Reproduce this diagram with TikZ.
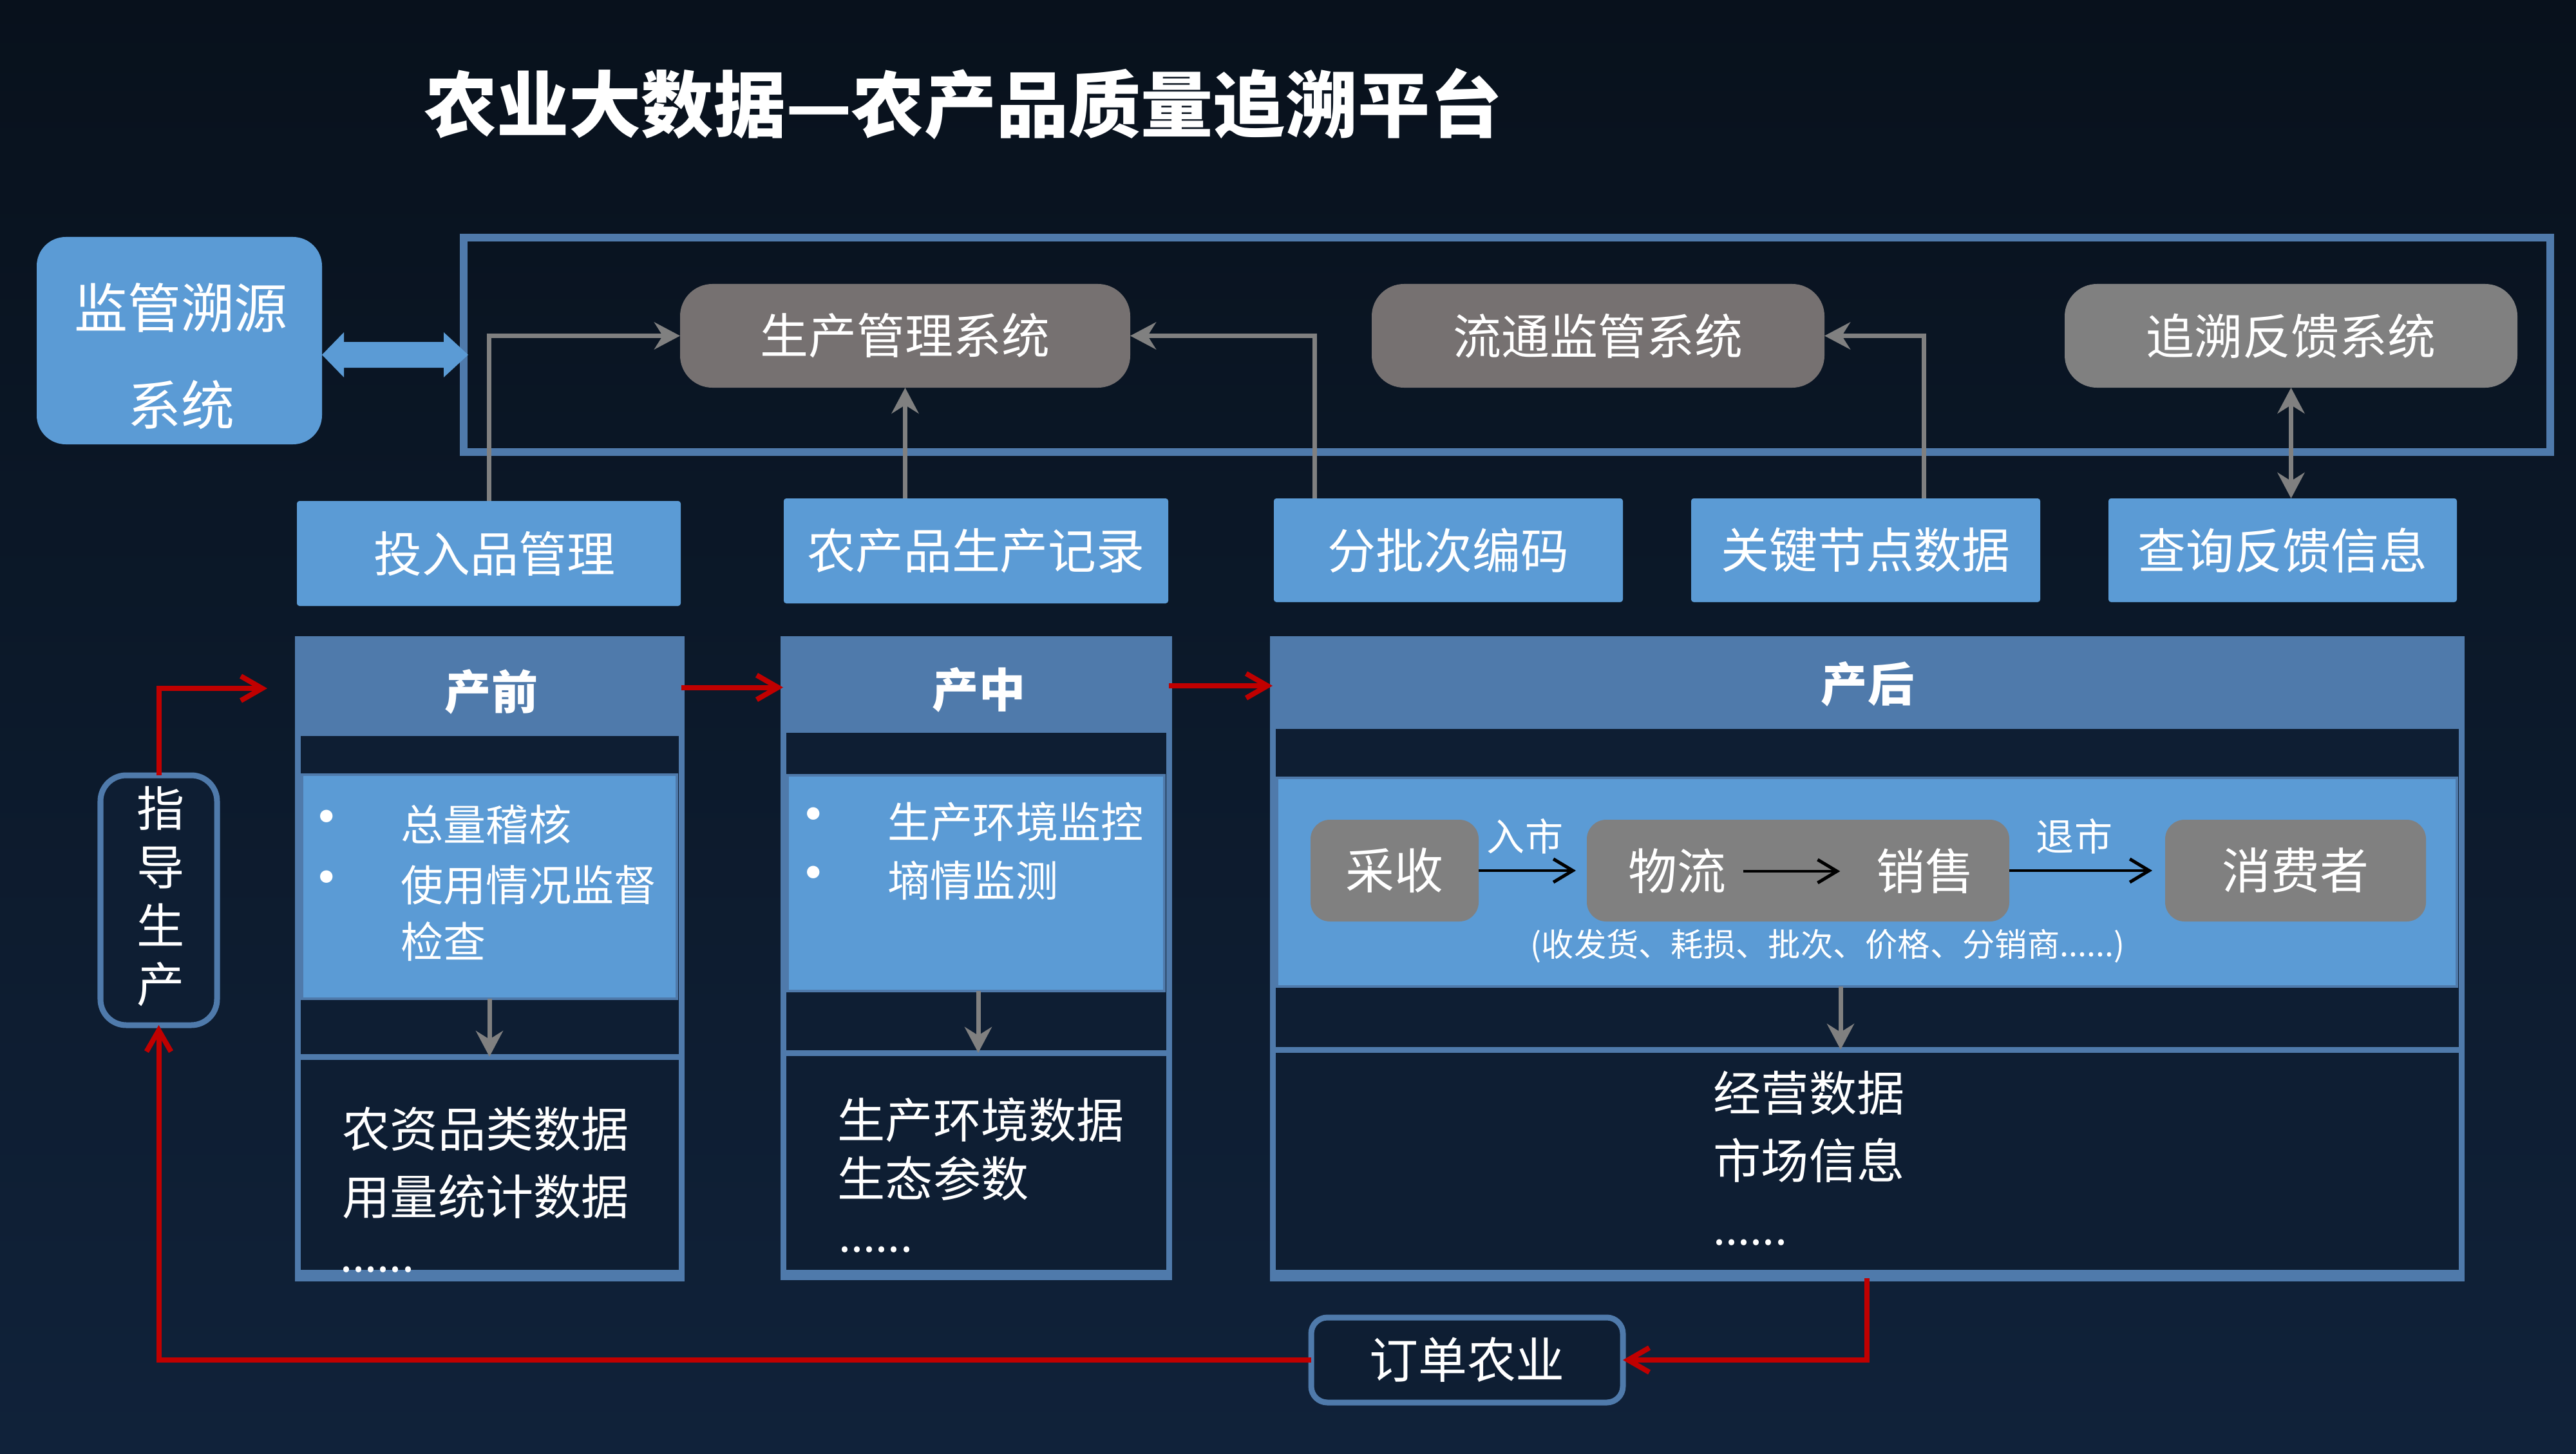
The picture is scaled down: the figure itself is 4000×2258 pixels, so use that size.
\documentclass[tikz,border=0pt]{standalone}
\usepackage{fontspec}
\setmainfont{Noto Sans CJK SC}
\usetikzlibrary{fit,arrows.meta,calc}
\definecolor{bgtop}{HTML}{08111C}
\definecolor{bgbot}{HTML}{10223A}
\definecolor{panel}{HTML}{0E1E33}
\definecolor{steel}{HTML}{4F7AAB}
\definecolor{lblue}{HTML}{5B9BD5}
\definecolor{gdark}{HTML}{767171}
\definecolor{gmid}{HTML}{808080}
\definecolor{ared}{HTML}{C00000}
\begin{document}
\begin{tikzpicture}[x=0.01cm,y=-0.01cm,
  box/.style={inner sep=0pt, outer sep=0pt},
  sysbox/.style={box, fill=gdark, rounded corners=0.5cm},
  inbox/.style={box, fill=lblue, rounded corners=0.04cm},
  colbox/.style={box, fill=panel, draw=steel, line width=0.09cm},
  hdr/.style={box, fill=steel},
  lbox/.style={box, fill=lblue, draw=steel, line width=0.04cm},
  procbox/.style={box, fill=gmid, rounded corners=0.3cm},
  lab/.style={inner sep=0pt, text=white, font=\fontsize{21.3pt}{25pt}\selectfont},
  hdrtxt/.style={inner sep=0pt, text=white, font=\bfseries\fontsize{20.5pt}{24pt}\selectfont},
  txt/.style={inner sep=0pt, text=white, anchor=west},
  bultxt/.style={txt, font=\fontsize{18.8pt}{22pt}\selectfont},
  bulmark/.style={inner sep=0pt, text=white, font=\fontsize{26pt}{28pt}\selectfont},
  dots/.style={txt, font=\fontsize{19.5pt}{22pt}\selectfont},
  datatxt/.style={txt, font=\fontsize{21.1pt}{25pt}\selectfont},
  proctxt/.style={inner sep=0pt, text=white, font=\fontsize{21.6pt}{25pt}\selectfont},
  grayarr/.style={draw=gmid, line width=0.07cm, -{Stealth[length=0.4cm,width=0.42cm]}},
  grayarr2/.style={draw=gmid, line width=0.07cm, {Stealth[length=0.4cm,width=0.42cm]}-{Stealth[length=0.4cm,width=0.42cm]}},
  blkarr/.style={draw=black, line width=0.045cm, -{Straight Barb[length=0.3cm,width=0.36cm,line width=0.05cm]}},
  redarr/.style={draw=ared, line width=0.08cm, -{Straight Barb[length=0.33cm,width=0.38cm,line width=0.08cm]}}
]
\useasboundingbox (0,0) rectangle (4000,2258);
\shade[top color=bgtop, bottom color=bgbot] (0,0) rectangle (4000,2258);

% title
\node[inner sep=0pt, text=white, font=\bfseries\fontsize{31.9pt}{36pt}\selectfont] (title) at (1496,161) {农业大数据—农产品质量追溯平台};

% frame and supervision box
\node[box, draw=steel, line width=0.12cm, fit={(720,369) (3960,702)}] (frame) {};
\node[box, fill=lblue, rounded corners=0.45cm, fit={(57,368) (500,690)}] (jg) {};
\node[lab, align=center, font=\fontsize{23.6pt}{43pt}\selectfont] (jgt) at (281,553) {监管溯源\\系统};
\fill[lblue] (500,551) -- (534,516) -- (534,531) -- (689,531) -- (689,516) -- (727,551) -- (689,586) -- (689,571) -- (534,571) -- (534,586) -- cycle;

% system nodes
\node[sysbox, fit={(1056,441) (1755,602)}] (s1) {};
\node[sysbox, fit={(2130,441) (2833,602)}] (s2) {};
\node[sysbox, fill=gmid, fit={(3206,441) (3909,602)}] (s3) {};
\node[lab] (s1t) at (s1.center) {生产管理系统};
\node[lab] (s2t) at (s2.center) {流通监管系统};
\node[lab] (s3t) at (s3.center) {追溯反馈系统};

% input boxes
\node[inbox, fit={(461,778) (1057,941)}] (in1) {};
\node[inbox, fit={(1217,774) (1814,937)}] (in2) {};
\node[inbox, fit={(1978,774) (2520,935)}] (in3) {};
\node[inbox, fit={(2626,774) (3168,935)}] (in4) {};
\node[inbox, fit={(3274,774) (3815,935)}] (in5) {};
\node[lab] (in1t) at ([xshift=0.09cm]in1.center) {投入品管理};
\node[lab] (in2t) at (in2.center) {农产品生产记录};
\node[lab] (in3t) at (in3.center) {分批次编码};
\node[lab] (in4t) at (in4.center) {关键节点数据};
\node[lab] (in5t) at (in5.center) {查询反馈信息};

\coordinate (c3) at (2041,0);
\coordinate (c4) at (2987,0);
\draw[grayarr] (in1.north) |- (s1.west);
\draw[grayarr] (in2.north -| s1.south) -- (s1.south);
\draw[grayarr] (in3.north -| c3) |- (s1.east);
\draw[grayarr] (in4.north -| c4) |- (s2.east);
\draw[grayarr2] (s3.south) -- (in5.north -| s3.south);

% columns
\node[colbox, fit={(462,992) (1058,1985)}] (col1) {};
\node[colbox, fit={(1216,992) (1815,1983)}] (col2) {};
\node[colbox, fit={(1976,992) (3822,1985)}] (col3) {};
\fill[steel] (458,1972) rectangle (1062,1989);
\fill[steel] (1212,1972) rectangle (1819,1987);
\fill[steel] (1972,1972) rectangle (3826,1989);

\node[hdr, fit={(462,992) (1058,1143)}] (h1) {};
\node[hdr, fit={(1216,992) (1815,1138)}] (h2) {};
\node[hdr, fit={(1976,992) (3822,1132)}] (h3) {};
\node[hdrtxt] (h1t) at (763,1074) {产前};
\node[hdrtxt] (h2t) at (1520,1071) {产中};
\node[hdrtxt] (h3t) at (2900,1062) {产后};

\node[lbox, fit={(469,1203) (1051,1551)}] (l1) {};
\node[lbox, fit={(1223,1204) (1808,1539)}] (l2) {};
\node[lbox, fit={(1983,1208) (3815,1532)}] (l3) {};

\coordinate (sep1) at (760,1641);
\coordinate (sep2) at (1519,1635);
\coordinate (sep3) at (2858,1630);
\draw[steel, line width=0.09cm] (col1.west |- sep1) -- (col1.east |- sep1);
\draw[steel, line width=0.09cm] (col2.west |- sep2) -- (col2.east |- sep2);
\draw[steel, line width=0.09cm] (col3.west |- sep3) -- (col3.east |- sep3);
\draw[grayarr] (l1.south -| sep1) -- (sep1);
\draw[grayarr] (l2.south -| sep2) -- (sep2);
\draw[grayarr] (l3.south -| sep3) -- (sep3);

% pre-production text
\node[bulmark] (b1a) at (507,1280) {•};
\node[bulmark] (b1b) at (507,1374) {•};
\node[bultxt] (t1a) at (622,1280) {总量稽核};
\node[bultxt] (t1b) at (622,1374) {使用情况监督};
\node[bultxt] (t1c) at (622,1462) {检查};
\node[datatxt] (d1a) at (531,1753) {农资品类数据};
\node[datatxt] (d1b) at (531,1858) {用量统计数据};
\node[dots] (d1c) at (528,1972) {......};

% production text
\node[bulmark] (b2a) at (1263,1276) {•};
\node[bulmark] (b2b) at (1263,1367) {•};
\node[bultxt] (t2a) at (1378,1276) {生产环境监控};
\node[bultxt] (t2b) at (1378,1367) {墒情监测};
\node[datatxt] (d2a) at (1300,1739) {生产环境数据};
\node[datatxt] (d2b) at (1300,1830) {生态参数};
\node[dots] (d2c) at (1302,1941) {......};

% post-production
\node[procbox, fit={(2035,1273) (2296,1431)}] (p1) {};
\node[procbox, fit={(2464,1273) (3120,1431)}] (p2) {};
\node[procbox, fit={(3362,1273) (3767,1431)}] (p4) {};
\node[proctxt] (caishou) at (p1.center) {采收};
\node[proctxt] (wl) at (2604,1353) {物流};
\node[proctxt] (xs) at (2989,1353) {销售};
\node[proctxt] (xfz) at (p4.center) {消费者};
\draw[blkarr, shorten >=0.17cm] (p1.east) -- (p2.west);
\draw[blkarr, shorten <=0.26cm, shorten >=0.55cm] (wl.east) -- (xs.west);
\draw[blkarr, shorten >=0.2cm] (p2.east) -- (p4.west);
\node[proctxt, font=\fontsize{16.8pt}{20pt}\selectfont] (rs) at (2368,1299) {入市};
\node[proctxt, font=\fontsize{16.8pt}{20pt}\selectfont] (ts) at (3221,1299) {退市};
\node[proctxt, font=\fontsize{14.3pt}{17pt}\selectfont] (cap) at (2838,1469) {(收发货、耗损、批次、价格、分销商......)};
\node[datatxt] (d3a) at (2660,1697) {经营数据};
\node[datatxt] (d3b) at (2660,1802) {市场信息};
\node[dots] (d3c) at (2660,1930) {......};

% guide and order
\node[box, fill=panel, draw=steel, line width=0.09cm, rounded corners=0.4cm, fit={(156,1204) (337,1592)}] (guide) {};
\node[lab, align=center, font=\fontsize{21.1pt}{25.9pt}\selectfont] (guidet) at (250,1392) {指\\导\\生\\产};
\node[box, fill=panel, draw=steel, line width=0.09cm, rounded corners=0.25cm, fit={(2036,2046) (2520,2178)}] (order) {};
\node[lab, font=\fontsize{21.6pt}{25pt}\selectfont] (ordert) at (order.center) {订单农业};

\coordinate (a1) at (415,1069);
\draw[redarr] (guide.north) |- (a1);
\draw[redarr] (h1.east) -- (h1.east -| h2.west);
\draw[redarr] (h2.east) -- (h2.east -| h3.west);
\draw[redarr] (col3.south) |- (order.east);
\draw[redarr] (order.west) -| (guide.south);
\end{tikzpicture}
\end{document}
